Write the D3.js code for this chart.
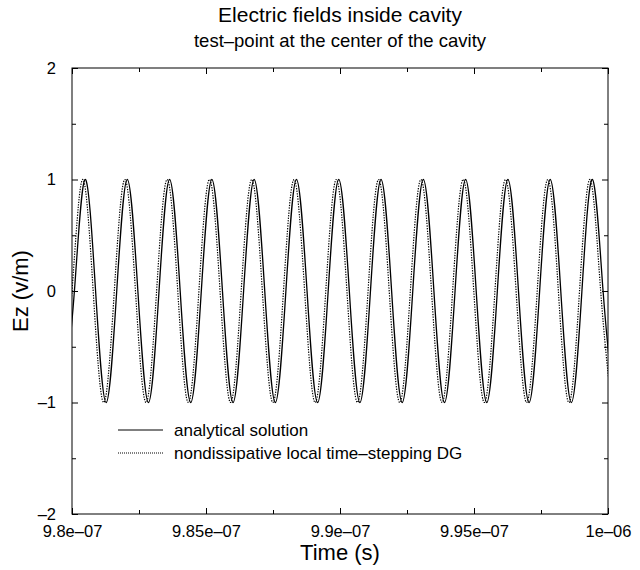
<!DOCTYPE html>
<html>
<head>
<meta charset="utf-8">
<script src="https://cdn.jsdelivr.net/npm/d3@7/dist/d3.min.js"></script>
<style>
  body { margin: 0; background: #fff; }
  text { font-family: "Liberation Sans", Arial, Helvetica, sans-serif; fill: #000; }
</style>
</head>
<body>
<div id="chart"></div>
<script>
// data: time in ns (9.8e-07 s = 980 ns), Ez in v/m, read at peaks / zero crossings / troughs
const analyticalT = [979.696, 980.090, 980.485, 980.880, 981.274, 981.669, 982.063, 982.458, 982.852, 983.247,
    983.641, 984.036, 984.430, 984.825, 985.219, 985.614, 986.008, 986.403, 986.797, 987.192,
    987.586, 987.981, 988.375, 988.770, 989.164, 989.559, 989.953, 990.348, 990.742, 991.137,
    991.531, 991.926, 992.320, 992.715, 993.109, 993.504, 993.898, 994.293, 994.687, 995.082,
    995.476, 995.871, 996.265, 996.660, 997.054, 997.449, 997.843, 998.238, 998.632, 999.027,
    999.421, 999.816, 1000.210]
const analyticalV = [-1, 0, 1, 0, -1, 0, 1, 0, -1, 0,
    1, 0, -1, 0, 1, 0, -1, 0, 1, 0,
    -1, 0, 1, 0, -1, 0, 1, 0, -1, 0,
    1, 0, -1, 0, 1, 0, -1, 0, 1, 0,
    -1, 0, 1, 0, -1, 0, 1, 0, -1, 0,
    1, 0, -1]
const dgT = [979.606, 980.000, 980.395, 980.790, 981.184, 981.579, 981.973, 982.368, 982.762, 983.157,
    983.551, 983.946, 984.340, 984.735, 985.129, 985.524, 985.918, 986.313, 986.707, 987.102,
    987.496, 987.891, 988.285, 988.680, 989.074, 989.469, 989.863, 990.258, 990.652, 991.047,
    991.441, 991.836, 992.230, 992.625, 993.019, 993.414, 993.808, 994.203, 994.597, 994.992,
    995.386, 995.781, 996.175, 996.570, 996.964, 997.359, 997.753, 998.148, 998.542, 998.937,
    999.331, 999.726, 1000.120]
const dgV = [-1, 0, 1, 0, -1, 0, 1, 0, -1, 0,
    1, 0, -1, 0, 1, 0, -1, 0, 1, 0,
    -1, 0, 1, 0, -1, 0, 1, 0, -1, 0,
    1, 0, -1, 0, 1, 0, -1, 0, 1, 0,
    -1, 0, 1, 0, -1, 0, 1, 0, -1, 0,
    1, 0, -1]

const xTicks = [980, 985, 990, 995, 1000]
const xTickLabels = ['9.8e–07', '9.85e–07', '9.9e–07', '9.95e–07', '1e–06']
const xMinor = [982.5, 987.5, 992.5, 997.5]
const yTicks = [-2, -1, 0, 1, 2]
const yTickLabels = ['–2', '–1', '0', '1', '2']
const yMinor = [-1.5, -0.5, 0.5, 1.5]
const seriesNames = ['analytical solution', 'nondissipative local time–stepping DG']

// dimensions
const w = 640
const h = 570
const pLeft = 72
const pRight = 608
const pTop = 68
const pBottom = 514

const svg = d3.select('#chart')
    .append('svg')
    .attr('width', w)
    .attr('height', h)

// scales
const xScale = d3.scaleLinear().domain([980, 1000]).range([pLeft, pRight])
const yScale = d3.scaleLinear().domain([-2, 2]).range([pBottom, pTop])

// title
svg.append('text')
    .attr('x', (pLeft + pRight) / 2)
    .attr('y', 22)
    .attr('text-anchor', 'middle')
    .style('font-size', '21px')
    .text('Electric fields inside cavity')

svg.append('text')
    .attr('x', (pLeft + pRight) / 2)
    .attr('y', 47)
    .attr('text-anchor', 'middle')
    .style('font-size', '18.5px')
    .text('test–point at the center of the cavity')

// lines
svg.append('clipPath')
    .attr('id', 'clip')
    .append('rect')
    .attr('x', pLeft)
    .attr('y', pTop)
    .attr('width', pRight - pLeft)
    .attr('height', pBottom - pTop)

const line = d3.line()
    .x(d => xScale(d[0]))
    .y(d => yScale(d[1]))
    .curve(d3.curveNatural)

const plot = svg.append('g').attr('clip-path', 'url(#clip)')

plot.append('path')
    .datum(analyticalT.map((t, i) => [t, analyticalV[i]]))
    .attr('d', line)
    .attr('fill', 'none')
    .attr('stroke', '#000')
    .attr('stroke-width', 1.3)

plot.append('path')
    .datum(dgT.map((t, i) => [t, dgV[i]]))
    .attr('d', line)
    .attr('fill', 'none')
    .attr('stroke', '#000')
    .attr('stroke-width', 1.2)
    .attr('stroke-dasharray', '1.3,1.3')

// frame
svg.append('rect')
    .attr('x', pLeft)
    .attr('y', pTop)
    .attr('width', pRight - pLeft)
    .attr('height', pBottom - pTop)
    .attr('fill', 'none')
    .attr('stroke', '#000')
    .attr('stroke-width', 1)

// axes (ticks point inward)
const addAxis = (axis, tx, ty) => {
    const g = svg.append('g')
        .attr('transform', `translate(${tx},${ty})`)
        .call(axis)
    g.select('.domain').remove()
    g.selectAll('text').style('font-size', '16.5px').style('font-family', '"Liberation Sans", Arial, sans-serif')
    return g
}

addAxis(d3.axisBottom(xScale).tickValues(xTicks).tickSize(-6).tickPadding(11)
    .tickFormat((d, i) => xTickLabels[i]), 0, pBottom)
addAxis(d3.axisBottom(xScale).tickValues(xMinor).tickSize(-4).tickFormat(''), 0, pBottom)
addAxis(d3.axisTop(xScale).tickValues(xTicks).tickSize(-6).tickFormat(''), 0, pTop)
addAxis(d3.axisTop(xScale).tickValues(xMinor).tickSize(-4).tickFormat(''), 0, pTop)

addAxis(d3.axisLeft(yScale).tickValues(yTicks).tickSize(-6).tickPadding(16)
    .tickFormat((d, i) => yTickLabels[i]), pLeft, 0)
addAxis(d3.axisLeft(yScale).tickValues(yMinor).tickSize(-4).tickFormat(''), pLeft, 0)
addAxis(d3.axisRight(yScale).tickValues(yTicks).tickSize(-6).tickFormat(''), pRight, 0)
addAxis(d3.axisRight(yScale).tickValues(yMinor).tickSize(-4).tickFormat(''), pRight, 0)

// axis labels
svg.append('text')
    .attr('x', (pLeft + pRight) / 2)
    .attr('y', 560)
    .attr('text-anchor', 'middle')
    .style('font-size', '22px')
    .text('Time (s)')

svg.append('text')
    .attr('transform', `translate(28,${(pTop + pBottom) / 2}) rotate(-90)`)
    .attr('text-anchor', 'middle')
    .style('font-size', '22px')
    .text('Ez (v/m)')

// legend
const legend = svg.append('g').attr('transform', 'translate(118,430)')
seriesNames.forEach((name, i) => {
    legend.append('line')
        .attr('x1', 0)
        .attr('x2', 45)
        .attr('y1', i * 23)
        .attr('y2', i * 23)
        .attr('stroke', '#000')
        .attr('stroke-width', 1)
        .attr('stroke-dasharray', i === 1 ? '1,1' : null)
    legend.append('text')
        .attr('x', 56)
        .attr('y', i * 23 + 6)
        .style('font-size', '17px')
        .text(name)
})
</script>
</body>
</html>
